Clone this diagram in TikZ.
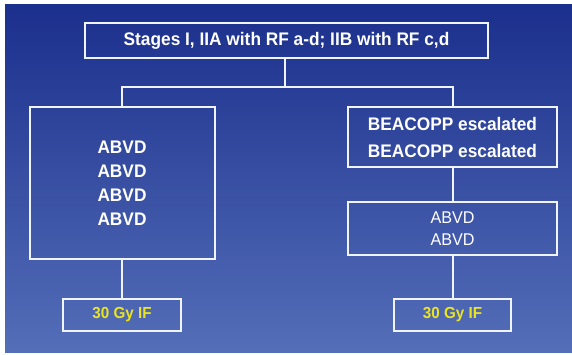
\documentclass[tikz,border=0pt]{standalone}
\usepackage{fontspec}
\setmainfont{Liberation Sans}
\newfontfamily\narrowsans[FakeStretch=0.95]{Liberation Sans}
\definecolor{bgtop}{RGB}{27,47,140}
\definecolor{bgbot}{RGB}{84,110,184}
\definecolor{boxline}{RGB}{240,244,255}
\definecolor{gyyellow}{RGB}{236,228,30}
\begin{document}
\begin{tikzpicture}[x=1pt,y=-1pt,
  box/.style={draw=boxline, line width=2pt, inner sep=0pt, align=center, text=white},
  link/.style={draw=boxline, line width=2pt},
  boldA/.style={font=\narrowsans\bfseries\fontsize{18.2}{24}\selectfont},
  boldB/.style={font=\narrowsans\bfseries\fontsize{18.2}{27}\selectfont},
  plainC/.style={font=\narrowsans\fontsize{17}{22}\selectfont},
  gytext/.style={font=\narrowsans\bfseries\fontsize{16}{18}\selectfont, text=gyyellow}]
\fill[white] (0,0) rectangle (572,355);
\shade[top color=bgtop, bottom color=bgbot] (5,5) rectangle (572,352);
\useasboundingbox (0,0) rectangle (572,355);

\node[box, boldA, minimum width=403pt, minimum height=35pt] (top) at (286.5,40.5)
  {Stages I, IIA with RF a-d; IIB with RF c,d};
\node[box, boldA, minimum width=185pt, minimum height=152pt] (left) at (122,183)
  {ABVD\\ABVD\\ABVD\\ABVD};
\node[box, boldB, minimum width=209pt, minimum height=60pt] (r1) at (452.5,137)
  {BEACOPP escalated\\BEACOPP escalated};
\node[box, plainC, minimum width=209pt, minimum height=53pt] (r2) at (452.5,228.5)
  {ABVD\\ABVD};
\node[box, gytext, minimum width=118pt, minimum height=32pt] (lb) at (122,315)
  {30 Gy IF};
\node[box, gytext, minimum width=117pt, minimum height=32pt] (rb) at (452.5,315)
  {30 Gy IF};

\coordinate (j) at (285,87);
\draw[link] (top.south -| j) -- (j);
\draw[link] (left.north) -- (left.north |- j) -- (r1.north |- j) -- (r1.north);
\draw[link] (r1.south) -- (r2.north);
\draw[link] (left.south) -- (lb.north);
\draw[link] (r2.south) -- (rb.north);
\end{tikzpicture}
\end{document}
